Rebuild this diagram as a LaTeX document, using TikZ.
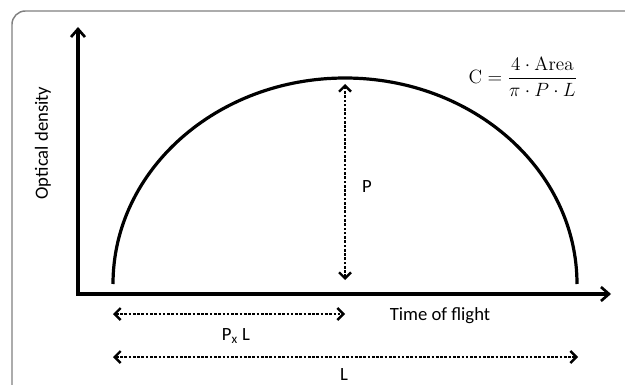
\documentclass[tikz,border=0pt]{standalone}
\usepackage{amsmath,amssymb}
\usepackage[no-math]{fontspec}
\setmainfont{Carlito}
\usetikzlibrary{arrows.meta,positioning,calc}

\tikzset{
  axis/.style={line width=2.4pt, line join=miter},
  peakcurve/.style={line width=2.4pt},
  dimline/.style={line width=2pt, dash pattern=on 2pt off 1.2pt, {Straight Barb[length=4.5pt,width=9pt,line width=1.8pt]}-{Straight Barb[length=4.5pt,width=9pt,line width=1.8pt]}},
}

\begin{document}
\begin{tikzpicture}[x=0.75pt, y=-0.75pt, >={Straight Barb[length=6pt,width=10.5pt,line width=2pt]}, font=\fontsize{14}{16}\selectfont]
	  \useasboundingbox (0,0) rectangle (625,385);
	  \draw[gray, line width=1.1pt, rounded corners=10pt] (12,11) rectangle (660,420);
	  % axes
	  \coordinate (origin) at (78,294);
	  \coordinate (ytip) at (78,27);
	  \coordinate (xtip) at (611,294);
	  \draw[axis, <->] (ytip) -- (origin) -- (xtip);
	  \node[rotate=90] (ylab) at (43,143) {Optical density};
	  \node (xlab) at (440,316) {Time of flight};
	  % peak
	  \coordinate (start) at (113,284);
	  \coordinate (stop) at (577,284);
	  \draw[peakcurve] (start) arc[start angle=180, end angle=360, x radius=232, y radius=206];
	  \coordinate (ptop) at (345,84);
	  \coordinate (pbot) at (345,280);
	  \draw[dimline] (pbot) -- (ptop);
	  \node (plab) at (367,187) {P};
	  % widths
	  \coordinate (pxa) at (113,314);
	  \coordinate (pxb) at (345,314);
	  \draw[dimline] (pxa) -- (pxb);
	  \node (pxlab) at (236,336) {P\textsubscript{x} L};
	  \coordinate (la) at (113,357);
	  \coordinate (lb) at (578,357);
	  \draw[dimline] (la) -- (lb);
	  \node (llab) at (344,375) {L};
	  \node (formula) at (523,77) {\fontsize{15}{17}\selectfont$\mathrm{C} = \dfrac{4\cdot\mathrm{Area}}{\pi\cdot P\cdot L}$};
	\end{tikzpicture}
\end{document}
